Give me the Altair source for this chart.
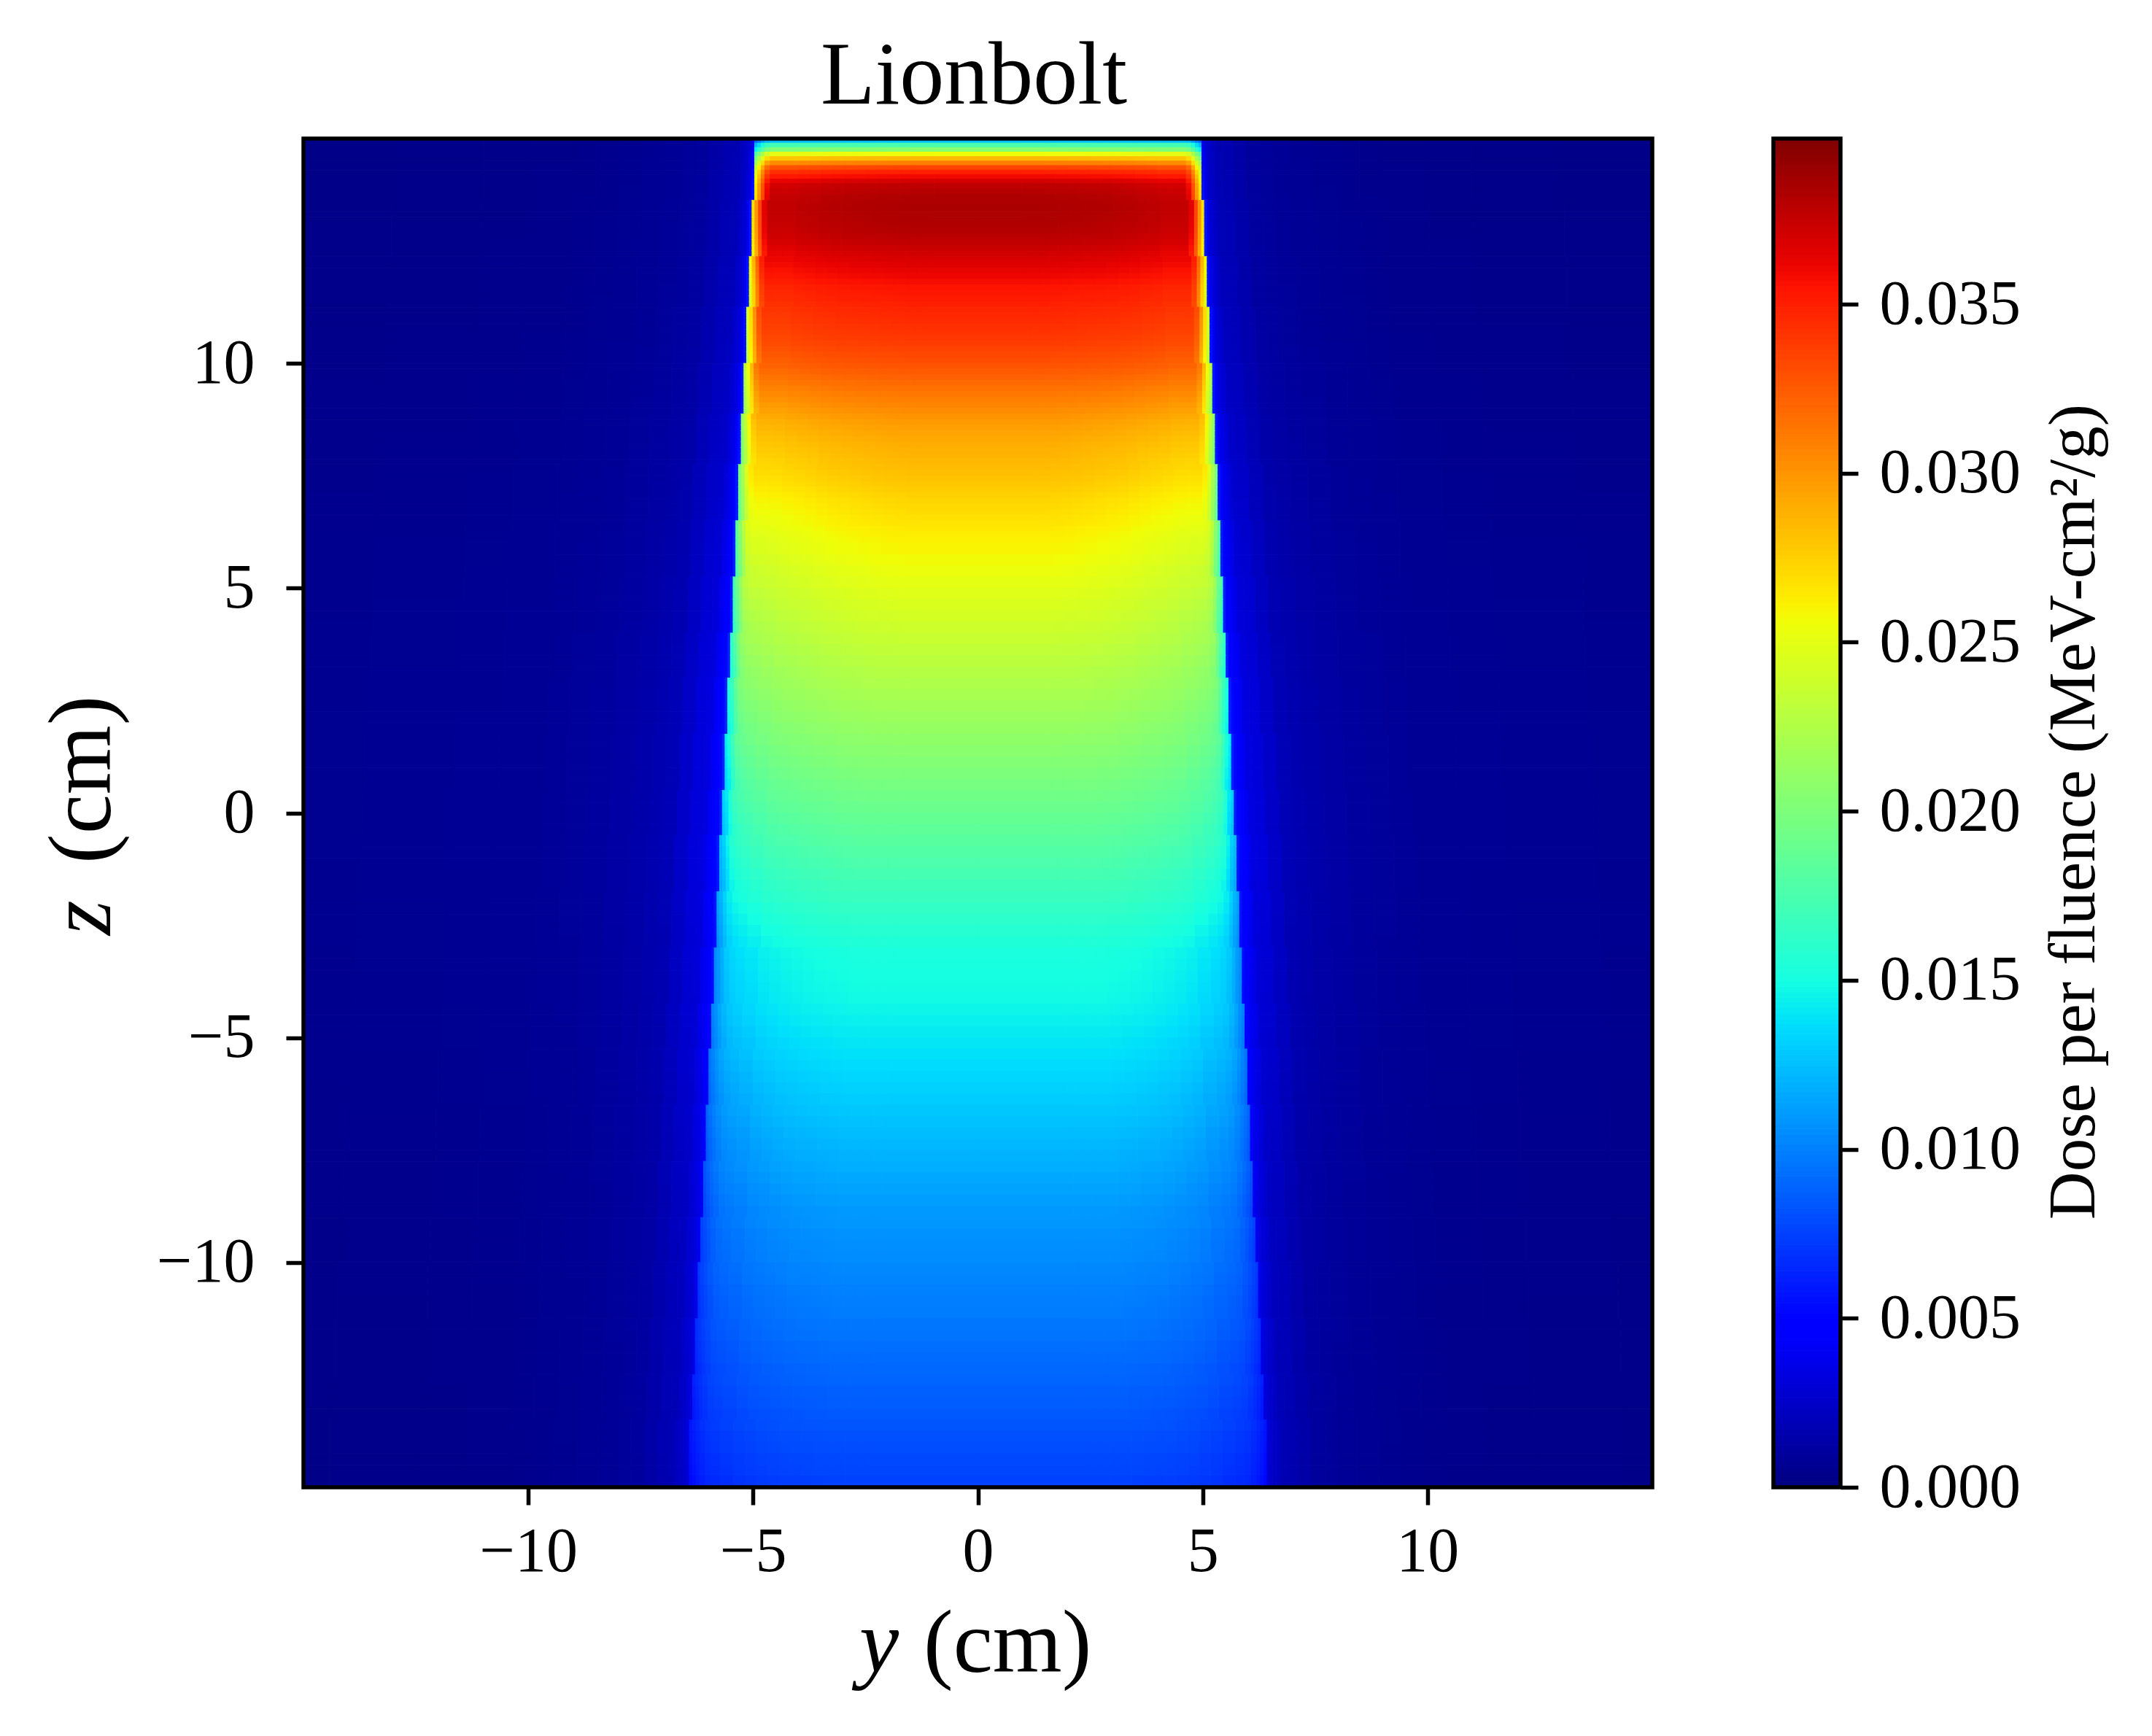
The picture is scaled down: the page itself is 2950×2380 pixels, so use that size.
import altair as alt
import numpy as np
import pandas as pd

alt.data_transformers.disable_max_rows()

VMAX = 0.0399
W, H = 1849, 1849
FONT = "Liberation Serif"

# row edges (z, cm) and dose on the beam axis
z_edges = ([15, 14.9, 14.8, 14.7, 14.6, 14.5, 14.4, 14.3, 14.2, 14.1, 14.0]
           + [14 - 0.125 * i for i in range(1, 65)]
           + [6 - 0.25 * i for i in range(1, 85)])
centre_surface = [.0125, .0175, .0205, .0255, .0285, .0310, .0335, .0350, .0360, .0370]
centre_peak = [
    .03780, .03805, .03830, .03835, .03840, .03835, .03830, .03820,
    .03810, .03790, .03770, .03740, .03710, .03685, .03660, .03635,
    .03610, .03580, .03550, .03535, .03520, .03500, .03480, .03465,
    .03450, .03435, .03420, .03400, .03380, .03355, .03330, .03305,
    .03280, .03250, .03220, .03190, .03160, .03130, .03100, .03070,
    .03040, .03010, .02980, .02960, .02940, .02920, .02900, .02885,
    .02870, .02855, .02840, .02825, .02810, .02790, .02770, .02750,
    .02730, .02715, .02700, .02685, .02670, .02650, .02630, .02615,
]
centre_deep = [
    .0260, .0257, .0254, .0251,
    .0248, .0245, .0242, .0239, .0236, .0233, .0230, .0227, .0224, .0221, .0218, .0215,
    .0212, .0209, .0206, .0203, .0200, .0197, .0194, .0191, .0188, .0185, .0182, .0179,
    .0176, .0173, .0170, .0167, .0164, .0161, .0158, .0155, .0152, .0151, .0150, .0149,
    .0148, .0146, .0144, .0142, .0140, .0138, .0136, .0134, .0132, .0130, .0128, .0126,
    .0124, .0122, .0120, .0118, .0116, .0114, .0112, .0110, .0109, .0107, .0106, .0105,
    .0103, .0102, .0100, .0099, .0098, .0096, .0095, .0093, .0092, .0090, .0089, .0087,
    .0086, .0084, .0083, .0081, .0080, .0078, .0077, .0075,
]
centre = centre_surface + centre_peak + centre_deep

# staircase of the beam edge: z where it steps and half width below that z
step_z = [13.66, 12.42, 11.24, 10.05, 8.87, 7.7, 6.5, 5.3, 4.1, 2.9, 1.8, .6, -.6, -1.8,
          -3, -4.2, -5.3, -6.5, -7.7, -8.9, -10, -11.2, -12.4, -13.6]
half_widths = [4.98, 5.04, 5.10, 5.16, 5.22, 5.28, 5.34, 5.40, 5.46, 5.52, 5.58, 5.64, 5.70,
               5.76, 5.82, 5.88, 5.94, 6.00, 6.06, 6.12, 6.18, 6.24, 6.30, 6.36, 6.43]

# inside the beam: distance in from the edge, fraction of axis dose at four depths
in_edges = [0, .08, .16, .24, .36, .5, .7, 1.0, 1.25, 1.5, 1.75, 2, 2.25, 2.5, 2.75, 3, 3.25, 3.5, 3.75, 4]
profile_z = [-7, 0, 6.5, 10]
in_profile_deep = [.70, .74, .78, .82, .86, .88, .90, .93, .945, .96, .97, .98, .985, .99, .995, 1, 1, 1, 1, 1]
in_profile_mid = [.68, .72, .80, .87, .90, .92, .94, .96, .968, .975, .98, .985, .99, .995, .997, 1, 1, 1, 1, 1]
in_profile_yellow = [.70, .78, .87, .93, .945, .945, .948, .955, .96, .965, .972, .978, .982, .986, .99, .993, .996, .998, 1, 1]
in_profile_peak = [.70, .78, .87, .95, .98, .98, .98, .985, .987, .99, .992, .994, .995, .996, .997, .998, .999, 1, 1, 1]
in_profiles = np.array([in_profile_deep, in_profile_mid, in_profile_yellow, in_profile_peak])

# outside the beam: distance out from the edge, scatter dose, share of axis dose
out_edges = [0, .06, .12, .2, .3, .45, .7, 1, 1.3, 1.6, 2, 2.5, 3, 3.5, 4, 5, 6, 8, 20]
out_far = [.0044, .0044, .0042, .0040, .0032, .0030, .0024, .0018, .0016, .0014,
           .0012, .0010, .0009, .0008, .0007, .00065, .0006, .00055]
out_share = [.08, .03, .01] + [0] * 15
# scatter level at depth
scatter_z = [-15, -11, -8, -5, -1, 2, 5, 8, 11, 15]
scatter_level = [.55, .65, .75, .90, 1.05, 1.05, .95, .80, .65, .55]

x_ticks = [-10, -5, 0, 5, 10]
y_ticks = [-10, -5, 0, 5, 10]
cb_ticks = [0, .005, .01, .015, .02, .025, .03, .035]


def jet(f):
    r = np.clip((f - .35) / .31, 0, 1) if f < .89 else 1 - (f - .89) / .11 * .5
    g = np.clip((f - .125) / .25, 0, 1) if f < .64 else np.clip((.91 - f) / .27, 0, 1)
    b = .5 + f / .11 * .5 if f < .11 else np.clip((.65 - f) / .31, 0, 1)
    return "#%02x%02x%02x" % (round(r * 255), round(g * 255), round(b * 255))


jet_range = [jet(i / 64) for i in range(65)]
color_scale = alt.Scale(domain=[0, VMAX], range=jet_range, interpolate="rgb", nice=False, zero=False)

assert len(centre) == len(z_edges) - 1

rows = []
for i, c in enumerate(centre):
    z1, z0 = z_edges[i], z_edges[i + 1]
    zm = (z0 + z1) / 2
    hw = half_widths[int(np.sum(np.array(step_z) > zm))]
    in_factor = [float(np.interp(zm, profile_z, in_profiles[:, k])) for k in range(len(in_edges))]
    sc = float(np.interp(zm, scatter_z, scatter_level))
    for sign in (-1, 1):
        ie = in_edges + [hw]
        for j, fac in enumerate(in_factor):
            a, b = sorted((sign * (hw - ie[j]), sign * (hw - ie[j + 1])))
            rows.append((a, b, z0, z1, round(c * fac, 5)))
        for j in range(len(out_far)):
            a, b = sorted((sign * (hw + out_edges[j]), sign * min(hw + out_edges[j + 1], 15)))
            if a == b:
                continue
            rows.append((a, b, z0, z1, round(out_far[j] * sc + c * out_share[j], 5)))
df = pd.DataFrame(rows, columns=["x0", "x1", "y0", "y1", "v"])

axis_common = dict(
    domain=False, grid=False, ticks=True, tickSize=24, tickWidth=5.5, tickColor="black",
    labelFont=FONT, labelFontSize=86, labelColor="black", labelOverlap=False, labelLimit=600, title=None,
)

heat = alt.Chart(df).mark_rect(strokeWidth=1).encode(
    x=alt.X("x0:Q", scale=alt.Scale(domain=[-15, 15], nice=False, zero=False),
            axis=alt.Axis(values=x_ticks, format="d", labelPadding=22, **axis_common)),
    x2="x1:Q",
    y=alt.Y("y0:Q", scale=alt.Scale(domain=[-15, 15], nice=False, zero=False),
            axis=alt.Axis(values=y_ticks, format="d", orient="left", labelPadding=43, **axis_common)),
    y2="y1:Q",
    color=alt.Color("v:Q", scale=color_scale, legend=None),
    stroke=alt.Stroke("v:Q", scale=color_scale, legend=None),
)

one = pd.DataFrame({"a": [0]})
frame = alt.Chart(one).mark_rect(fillOpacity=0, stroke="black", strokeWidth=5.5).encode(
    x=alt.value(0), x2=alt.value(W), y=alt.value(0), y2=alt.value(H))

levels = np.linspace(0, VMAX, 257)
cb_df = pd.DataFrame({"y0": levels[:-1], "y1": levels[1:], "v": (levels[:-1] + levels[1:]) / 2})
CB_L, CB_R = 2015, 2107
cbar = alt.Chart(cb_df).mark_rect(strokeWidth=1).encode(
    x=alt.value(CB_L), x2=alt.value(CB_R),
    y=alt.Y("y0:Q", scale=alt.Scale(domain=[0, VMAX], nice=False, zero=False),
            axis=alt.Axis(values=cb_ticks, format=".3f", orient="right", offset=CB_R - W,
                          labelPadding=29, **axis_common)),
    y2="y1:Q",
    color=alt.Color("v:Q", scale=color_scale, legend=None),
    stroke=alt.Stroke("v:Q", scale=color_scale, legend=None),
)
cb_frame = alt.Chart(one).mark_rect(fillOpacity=0, stroke="black", strokeWidth=5.5).encode(
    x=alt.value(CB_L), x2=alt.value(CB_R), y=alt.value(0), y2=alt.value(H))


def label(text, x, y, size, align="left", angle=0, style="normal"):
    return alt.Chart(pd.DataFrame({"t": [text]})).mark_text(
        font=FONT, fontSize=size, align=align, baseline="alphabetic", angle=angle,
        fontStyle=style, color="black",
    ).encode(text="t:N", x=alt.value(x), y=alt.value(y))


texts = [
    label("Lionbolt", 919, -48, 122, align="center"),
    label("y", 762, 2102, 122, style="italic"),
    label("(cm)", 850, 2102, 122),
    label("z", -265, 1092, 122, angle=270, style="italic"),
    label("(cm)", -265, 994, 122, angle=270),
    label("Dose per fluence (MeV-cm²/g)", 2455, 923, 91, align="center", angle=270),
]

main = alt.layer(heat, frame, *texts)
chart = alt.layer(main, cbar, cb_frame).resolve_scale(y="independent").properties(
    width=W, height=H, autosize="none",
    padding={"left": 408, "top": 182, "right": 660, "bottom": 320},
    background="white",
).configure_view(stroke=None)

chart.save("out.html", embed_options={"renderer": "svg", "actions": False})
